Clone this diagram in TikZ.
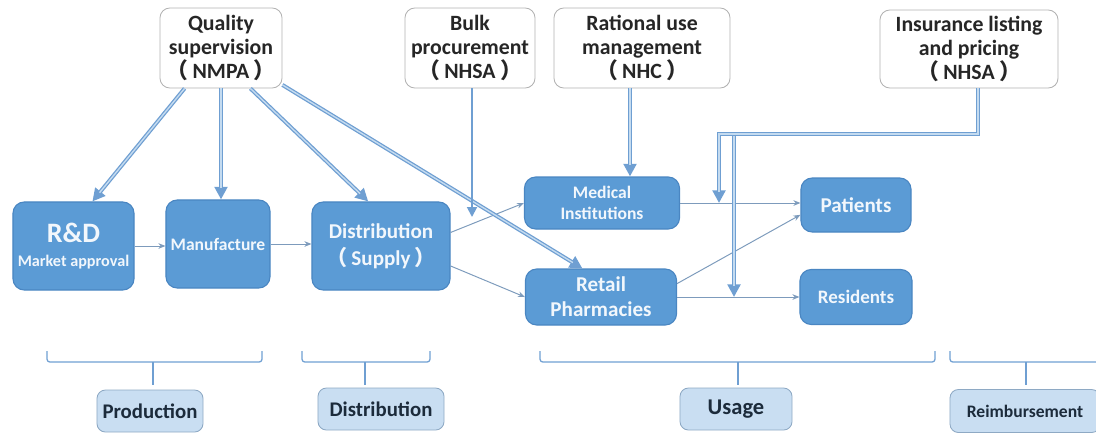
\documentclass[tikz,border=0pt]{standalone}
\usepackage{fontspec}
\setmainfont{Carlito}
\newfontfamily\cjk{Noto Sans CJK SC}
\usetikzlibrary{arrows.meta}

\definecolor{boxblue}{HTML}{5B9BD5}
\definecolor{boxedge}{HTML}{4A86C2}
\definecolor{lineblue}{HTML}{6F9FD2}
\definecolor{paleblue}{HTML}{C4DBF0}
\definecolor{thinline}{HTML}{7D9BBC}
\definecolor{tagfill}{HTML}{C9DEF2}
\definecolor{tagedge}{HTML}{8EA9C4}
\definecolor{tagtext}{HTML}{1C2B3B}
\definecolor{boxtext}{HTML}{F2F7FC}
\newcommand{\lpar}{{\cjk （}\hspace{0.2em}}
\newcommand{\rpar}{\hspace{0.2em}{\cjk ）}}

\begin{document}
\begin{tikzpicture}[x=0.025cm, y=-0.025cm]
    \tikzstyle{agency} = [draw=gray!60, fill=white, rounded corners=7pt, align=center, text=black!85, font=\bfseries\fontsize{15.5}{17}\selectfont, line width=0.6pt]
    \tikzstyle{stage} = [draw=boxedge, fill=boxblue, rounded corners=8pt, align=center, text=boxtext, line width=0.8pt]
    \tikzstyle{tag} = [draw=tagedge, fill=tagfill, rounded corners=6pt, text=tagtext, font=\bfseries\fontsize{14.8}{16}\selectfont, line width=0.6pt]
    \tikzstyle{reg} = [draw=lineblue, line width=2.8pt, -{Triangle[length=9pt,width=9pt]}, postaction={draw=paleblue, line width=1pt, -, shorten >=8pt}]
    \tikzstyle{bulkline} = [draw=lineblue, line width=1.3pt, -{Triangle[length=7pt,width=7pt]}]
    \tikzstyle{flow} = [draw=thinline, line width=0.7pt, -{Stealth[length=5pt,width=4pt]}]
    \tikzstyle{brace} = [draw=lineblue, line width=0.9pt, rounded corners=2pt]

    \useasboundingbox (0,0) rectangle (1096,437);

    % regulators
    \node[agency, minimum width=3.05cm, minimum height=2cm] (nmpa) at (221,48) {Quality\\supervision\\\lpar NMPA\rpar};
    \node[agency, minimum width=3.25cm, minimum height=2cm] (bulk) at (470,48) {Bulk\\procurement\\\lpar NHSA\rpar};
    \node[agency, minimum width=4.4cm, minimum height=2cm] (nhc) at (642,48) {Rational use\\management\\\lpar NHC\rpar};
    \node[agency, minimum width=4.45cm, minimum height=1.95cm] (ins) at (969,49) {Insurance listing\\and pricing\\\lpar NHSA\rpar};

    % supply chain
    \node[stage, minimum width=3.025cm, minimum height=2.2cm] (rd) at (73.5,246) {{\bfseries\fontsize{20}{22}\selectfont R\&D}\\[5pt]{\bfseries\fontsize{11.5}{13}\selectfont Market approval}};
    \node[stage, minimum width=2.6cm, minimum height=2.2cm, font=\bfseries\fontsize{12.5}{13}\selectfont] (manu) at (218,244) {Manufacture};
    \node[stage, minimum width=3.45cm, minimum height=2.2cm, font=\bfseries\fontsize{15}{19}\selectfont] (dist) at (381,246) {Distribution\\\lpar Supply\rpar};
    \node[stage, minimum width=3.875cm, minimum height=1.3cm, font=\bfseries\fontsize{12.5}{15}\selectfont] (med) at (602,203) {Medical\\Institutions};
    \node[stage, minimum width=3.775cm, minimum height=1.4cm, font=\bfseries\fontsize{15}{18}\selectfont] (ret) at (601,297) {Retail\\Pharmacies};
    \node[stage, minimum width=2.75cm, minimum height=1.35cm, font=\bfseries\fontsize{15}{18}\selectfont] (pat) at (856,205) {Patients};
    \node[stage, minimum width=2.8cm, minimum height=1.375cm, font=\bfseries\fontsize{13.5}{16}\selectfont] (res) at (856,297) {Residents};

    % stage tags
    \node[tag, minimum width=2.65cm, minimum height=1.05cm] (prod) at (150,411) {Production};
    \node[tag, minimum width=3.15cm, minimum height=1.05cm] (distl) at (381,409) {Distribution};
    \node[tag, minimum width=2.8cm, minimum height=1.05cm, font=\bfseries\fontsize{16}{18}\selectfont] (usage) at (736,409) {Usage};
    \node[tag, minimum width=3.75cm, minimum height=1.075cm, font=\bfseries\fontsize{12.5}{14}\selectfont] (reimb) at (1025,411) {Reimbursement};

    \foreach \l/\r/\m in {47/262/153, 302/430/365, 540/935/738, 950/1110/1026} {
      \draw[brace] (\l,351) |- (\r,362) -- (\r,351);
      \draw[brace] (\m,362) -- (\m,385);
    }

    % product flow
    \draw[flow] (rd.east) -- (manu.west |- rd.east);
    \draw[flow] (manu.east) -- (dist.west |- manu.east);
    \draw[flow] (dist.11) -- (med.west);
    \draw[flow] (dist.-16) -- (ret.west);
    \draw[flow] (med.east) -- (pat.west |- med.east);
    \draw[flow] (ret.10) -- (pat.190);
    \draw[flow] (ret.east) -- (res.west |- ret.east);

    % oversight
    \draw[reg] (nmpa.228) -- (rd.67);
    \draw[reg] (nmpa.south) -- (nmpa.south |- manu.north);
    \draw[reg] (nmpa.306) -- (dist.106);
    \draw[reg] (nmpa.329) -- (ret.123);
    \coordinate (bulkend) at (472,217);
    \draw[bulkline] (bulk.south -| bulkend) -- (bulkend);
    \draw[reg] (nhc.south -| 630,0) -- (630,0 |- med.north);

    \coordinate (medtap) at (719,0 |- med.east);
    \coordinate (restap) at (734,0 |- ret.east);
    \draw[reg] (734,135) -- (restap);
    \draw[reg] (978,0 |- ins.south) -- (978,134) -- (719,134) -- (medtap);
\end{tikzpicture}
\end{document}
